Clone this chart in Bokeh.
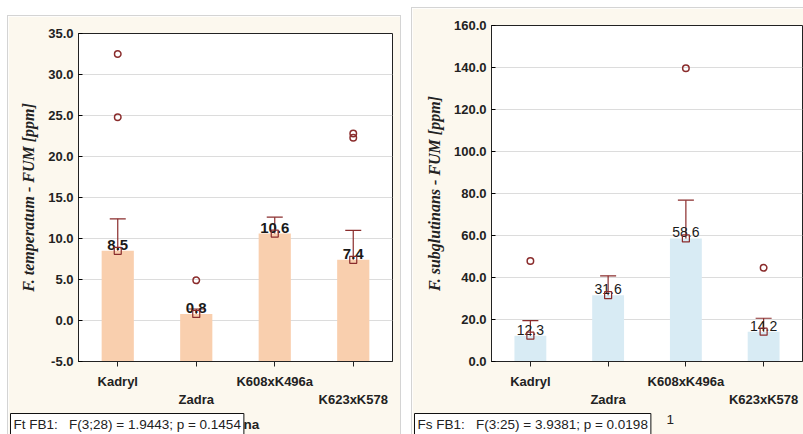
from bokeh.plotting import figure
from bokeh.layouts import row
from bokeh.models import (ColumnDataSource, Whisker, TeeHead, Label, CategoricalAxis,
                          FixedTicker, NumeralTickFormatter, Range1d, FactorRange,
                          CustomJSTickFormatter)
from bokeh.core.properties import value
from bokeh.embed import file_html
from bokeh.resources import INLINE

categories = ["Kadryl", "Zadra", "K608xK496a", "K623xK578"]

ft_mean = [8.5, 0.8, 10.6, 7.4]
ft_lower = [4.5, 0.2, 8.5, 3.9]
ft_upper = [12.4, 1.4, 12.6, 11.0]
ft_labels = ["8.5", "0.8", "10.6", "7.4"]
ft_out_cat = ["Kadryl", "Kadryl", "Zadra", "K623xK578", "K623xK578"]
ft_out_val = [32.5, 24.8, 4.9, 22.8, 22.3]
ft_ticks = [-5, 0, 5, 10, 15, 20, 25, 30, 35]

fs_mean = [12.3, 31.6, 58.6, 14.2]
fs_lower = [6.3, 22.2, 40.3, 7.9]
fs_upper = [19.5, 40.8, 76.8, 20.6]
fs_labels = ["12.3", "31.6", "58.6", "14.2"]
fs_out_cat = ["Kadryl", "K608xK496a", "K623xK578"]
fs_out_val = [47.8, 139.6, 44.6]
fs_ticks = [0, 20, 40, 60, 80, 100, 120, 140, 160]

ft_stat = "Ft FB1:\u00a0\u00a0 F(3;28) = 1.9443; p = 0.1454"
fs_stat = "Fs FB1:\u00a0\u00a0 F(3:25) = 3.9381; p = 0.0198"

BEIGE = "#fcf8ee"
ERR = "#8a2c2c"
FONT = "Liberation Sans"


def make_panel(mean, lower, upper, labels, out_cat, out_val, ticks, ymin, ymax,
               bar_color, ylabel, stat, stat_x, frag, frag_x, frag_y, frag_style,
               width, height, borders, label_style, label_size, margin):
    bl, br, bt, bb = borders
    p = figure(x_range=FactorRange(*categories), y_range=Range1d(ymin, ymax),
               width=width, height=height, output_backend="svg", toolbar_location=None,
               min_border_left=bl, min_border_right=br, min_border_top=bt,
               min_border_bottom=bb, background_fill_color="white",
               border_fill_color=BEIGE, outline_line_color="#222222",
               margin=margin, styles={"outline": "1px solid #d4d4d4"})
    src = ColumnDataSource(dict(cat=categories, mean=mean, lower=lower, upper=upper,
                                lab=labels))
    p.vbar(x="cat", top="mean", bottom=ymin, width=0.41, source=src,
           fill_color=bar_color, line_color=None)
    p.text(x="cat", y="mean", text="lab", source=src, text_align="center",
           text_baseline="bottom", y_offset=-1, text_font=value(FONT),
           text_font_size=label_size, text_font_style=label_style, text_color="#1a1a1a")
    w = Whisker(base="cat", upper="upper", lower="lower", source=src,
                line_color=ERR, line_width=1.2,
                upper_head=TeeHead(size=16, line_color=ERR, line_width=1.2),
                lower_head=TeeHead(size=16, line_color=ERR, line_width=1.2))
    p.add_layout(w)
    p.scatter(x="cat", y="mean", source=src, marker="square", size=7,
              line_color=ERR, fill_alpha=0, line_width=1.2)
    p.scatter(x=out_cat, y=out_val, marker="circle", size=6.5, line_color=ERR,
              fill_alpha=0, line_width=1.5)

    p.xgrid.grid_line_color = None
    p.ygrid.grid_line_color = "#dcdcdc"
    p.ygrid.ticker = FixedTicker(ticks=ticks)

    p.yaxis.ticker = FixedTicker(ticks=ticks)
    p.yaxis.formatter = NumeralTickFormatter(format="0.0")
    p.yaxis.major_tick_in = 4
    p.yaxis.major_tick_out = 0
    p.yaxis.minor_tick_line_color = None
    p.yaxis.major_label_standoff = 5
    p.yaxis.major_label_text_font = FONT
    p.yaxis.major_label_text_font_style = "bold"
    p.yaxis.major_label_text_font_size = "13px"
    p.yaxis.major_label_text_color = "#222222"
    p.yaxis.axis_line_color = "#222222"
    p.yaxis.axis_label = ylabel
    p.yaxis.axis_label_text_font = "Liberation Serif"
    p.yaxis.axis_label_text_font_style = "bold italic"
    p.yaxis.axis_label_text_font_size = "16px"
    p.yaxis.axis_label_text_color = "#222222"
    p.yaxis.axis_label_standoff = 8

    xa = p.xaxis[0]
    xa.major_tick_in = 0
    xa.major_tick_out = 5
    xa.axis_line_color = "#222222"
    xa.major_tick_line_color = "#222222"
    xa.major_label_standoff = 7
    xa.major_label_text_font = FONT
    xa.major_label_text_font_style = "bold"
    xa.major_label_text_font_size = "13px"
    xa.major_label_text_line_height = 0.9
    xa.major_label_text_color = "#222222"
    xa.formatter = CustomJSTickFormatter(code="return (index % 2 == 0) ? tick : ' ';")

    xa2 = CategoricalAxis(axis_line_color=None, major_tick_line_color=None,
                          major_tick_out=0, major_tick_in=0, major_label_standoff=0,
                          major_label_text_font=FONT, major_label_text_font_style="bold",
                          major_label_text_font_size="13px",
                          major_label_text_color="#222222",
                          formatter=CustomJSTickFormatter(
                              code="return (index % 2 == 1) ? tick : ' ';"))
    p.add_layout(xa2, "below")

    p.add_layout(Label(x=stat_x, y=17, x_units="screen", y_units="screen", text=stat,
                       text_font=FONT, text_font_size="13.5px", text_baseline="top",
                       text_align="left", text_color="#222222",
                       background_fill_color="white", border_line_color="#111111",
                       border_line_width=1, padding=3), "below")
    p.add_layout(Label(x=frag_x, y=frag_y, x_units="screen", y_units="screen",
                       text=frag, text_font=FONT, text_font_size="13.5px",
                       text_font_style=frag_style, text_baseline="top", text_align="left",
                       text_color="#222222"), "above")
    return p


p1 = make_panel(ft_mean, ft_lower, ft_upper, ft_labels, ft_out_cat, ft_out_val, ft_ticks,
                -5, 35, "#f9cfae", "F. temperatum - FUM [ppm]", ft_stat, -68, "na", 165,
                -383, "bold", 392, 418, (70, 8, 17, 73), "bold", "15px", (16, 0, 0, 8))
p2 = make_panel(fs_mean, fs_lower, fs_upper, fs_labels, fs_out_cat, fs_out_val, fs_ticks,
                0, 160, "#d8ebf4", "F. subglutinans - FUM [ppm]", fs_stat, -77, "1", 175,
                -389, "normal", 391, 426, (79, 1, 17, 71), "normal", "14px",
                (8, 0, 0, 12))

layout = row(p1, p2)
open("out.html", "w").write(file_html(layout, INLINE))
